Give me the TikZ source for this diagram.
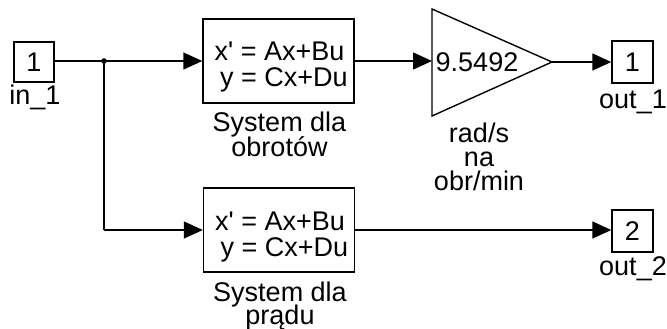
\documentclass[tikz,border=0pt]{standalone}
\usepackage{fontspec}
\setmainfont{Liberation Sans}
\usetikzlibrary{arrows.meta}
\begin{document}
\begin{tikzpicture}[x=1pt,y=-1pt,
  every node/.style={font=\fontsize{27}{27}\selectfont, inner sep=0pt},
  txt/.style={text height=19pt, text depth=4pt},
  blk/.style={draw, line width=1.4pt, fill=white},
  port/.style={blk, minimum width=40pt, minimum height=40pt},
  ss/.style={blk, minimum width=151pt, minimum height=84pt},
  lbl/.style={txt, anchor=base},
  wire/.style={line width=1.4pt, -{Triangle[length=19pt,width=17pt]}},
  plain/.style={line width=1.4pt}]
\useasboundingbox (0,0) rectangle (667,329);

% ports
\node[port] (in1) at (34,62) {1};
\node[lbl] (in1l) at (35,105) {in\_1};
\node[port, minimum width=41pt, minimum height=42pt] (out1) at (632.5,62) {1};
\node[lbl] (out1l) at (633,108) {out\_1};
\node[port, minimum width=41pt, minimum height=42pt] (out2) at (632.5,231) {2};
\node[lbl] (out2l) at (633,275) {out\_2};

% state-space blocks
\node[ss] (ss1) at (278.5,61) {};
\node[lbl] (ss1a) at (279.5,61) {x\textquotesingle{} = Ax+Bu};
\node[lbl] (ss1b) at (284,87) {y = Cx+Du};
\node[lbl] (ss1l1) at (279.5,131) {System dla};
\node[lbl] (ss1l2) at (279.5,156) {obrotów};

\node[ss] (ss2) at (279,230) {};
\node[lbl] (ss2a) at (280,230) {x\textquotesingle{} = Ax+Bu};
\node[lbl] (ss2b) at (284.5,256) {y = Cx+Du};
\node[lbl] (ss2l1) at (280,301) {System dla};
\node[lbl] (ss2l2) at (280,324) {prądu};

% gain
\coordinate (gin) at (432,61);
\coordinate (gtip) at (552,62);
\draw[plain, line join=miter] (432,9) -- (gtip) -- (432,116) -- cycle;
\node[lbl] (gval) at (477,71) {9.5492};
\node[lbl] (gl1) at (479,142) {rad/s};
\node[lbl] (gl2) at (479,166) {na};
\node[lbl] (gl3) at (479,190) {obr/min};

% connectors
\coordinate (br) at (104,61);
\coordinate (brd) at (104,230);
\draw[plain] (in1.east |- br) -- (br);
\draw[wire] (br) -- (ss1.west);
\draw[plain] (br) -- (brd);
\draw[wire] (brd) -- (ss2.west);
\fill (br) circle (2.8pt);
\draw[wire] (ss1.east) -- (gin);
\draw[wire] (gtip) -- (out1.west);
\draw[wire] (ss2.east) -- (ss2.east -| out2.west);
\end{tikzpicture}
\end{document}
